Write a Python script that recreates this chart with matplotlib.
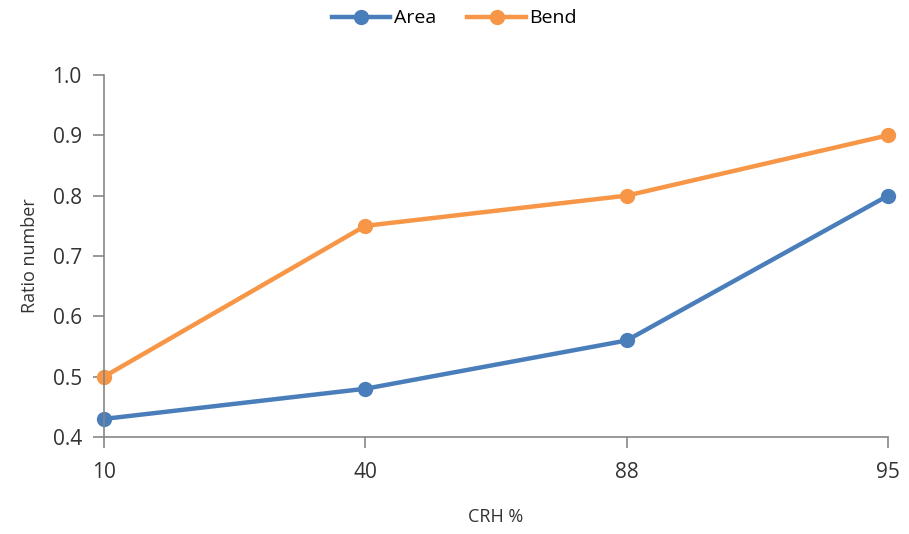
import matplotlib.pyplot as plt

plt.rcParams['font.family'] = ['Open Sans', 'DejaVu Sans']

crh = ['10', '40', '88', '95']
area = [0.43, 0.48, 0.56, 0.80]
bend = [0.50, 0.75, 0.80, 0.90]

fig = plt.figure(figsize=(9.09, 5.34), dpi=100)
ax = fig.add_axes([0.1144, 0.1816, 0.8625, 0.678])

x = range(len(crh))
ax.plot(x, area, color='#4a7ebb', lw=3.2, marker='o', markersize=10, label='Area')
ax.plot(x, bend, color='#f79646', lw=3.2, marker='o', markersize=10, label='Bend')

ax.set_xlim(0, len(crh) - 1)
ax.set_ylim(0.4, 1.0)
ax.set_xticks(list(x))
ax.set_xticklabels(crh)
ax.set_yticks([0.4, 0.5, 0.6, 0.7, 0.8, 0.9, 1.0])
ax.set_yticklabels(['0.4', '0.5', '0.6', '0.7', '0.8', '0.9', '1.0'])

for s in ['top', 'right']:
    ax.spines[s].set_visible(False)
for s in ['left', 'bottom']:
    ax.spines[s].set_color('#868686')
    ax.spines[s].set_linewidth(1.2)
ax.tick_params(axis='both', colors='#868686', labelcolor='#333333', labelsize=15, length=8, width=1.2)
ax.tick_params(axis='x', pad=10)
ax.tick_params(axis='y', pad=8)

ax.set_xlabel('CRH %', fontsize=13, color='#333333', labelpad=18)
ax.set_ylabel('Ratio number', fontsize=13, color='#333333', labelpad=10)

for ln in ax.lines:
    ln.set_clip_on(False)

fig.legend(loc='upper center', bbox_to_anchor=(0.5, 1.015), ncol=2, frameon=False,
           fontsize=14, handlelength=3, columnspacing=1.6, handletextpad=0.2)

fig.savefig('out.png', dpi=100)
